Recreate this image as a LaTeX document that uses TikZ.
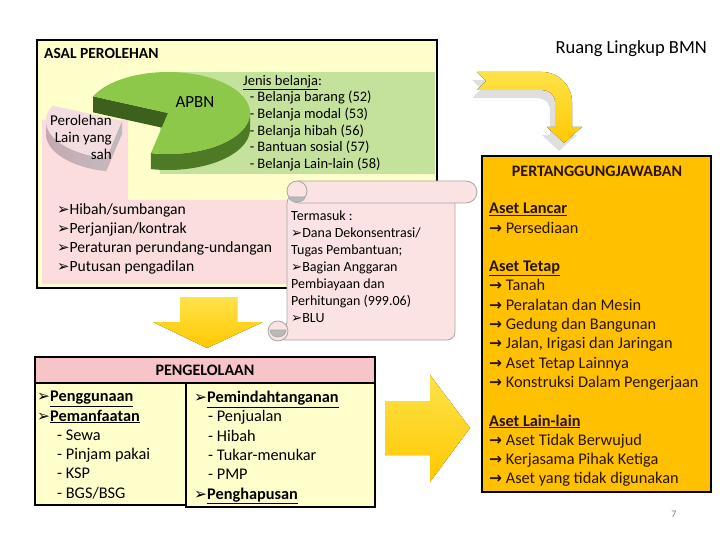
\documentclass[tikz,border=0pt]{standalone}
\usepackage{fontspec}
\usepackage{graphicx}
\setmainfont{Carlito}
\newfontfamily\symf{DejaVu Sans}
\newcommand{\bul}{{\symf\scalebox{0.95}{➢}}}
\newcommand{\arr}{{\symf\bfseries\scalebox{0.95}{→}}\ }
\definecolor{lyel}{HTML}{FFFFCC}
\definecolor{pinkbg}{HTML}{FBDDDE}
\definecolor{greenbg}{HTML}{C4E29C}
\definecolor{pietop}{HTML}{8DC84A}
\definecolor{pieside}{HTML}{4E7A26}
\definecolor{piecut}{HTML}{3D611C}
\definecolor{slicetop}{HTML}{F4DDE0}
\definecolor{sliceside}{HTML}{B8939F}
\definecolor{scrollc}{HTML}{FCE3E3}
\definecolor{gold}{HTML}{FFC800}
\definecolor{goldlt}{HTML}{FFE24A}
\definecolor{orangebox}{HTML}{FFC000}
\definecolor{hdrpink}{HTML}{F6C4C9}
\definecolor{txtbrown}{HTML}{2A1400}
\begin{document}
\begin{tikzpicture}[x=1pt,y=-1pt,
  frame/.style={draw=black,line width=2.2pt},
  thinframe/.style={draw=black,line width=1.6pt},
  scrollst/.style={fill=scrollc,draw=gray!70,line width=0.8pt},
  arrowst/.style={top color=goldlt,bottom color=gold,draw=none},
  body/.style={font=\fontsize{16.3}{19.3}\selectfont,anchor=north west,align=left,inner sep=0pt},
  small/.style={font=\fontsize{14.5}{16.6}\selectfont,anchor=north west,align=left,inner sep=0pt},
  scrtxt/.style={font=\fontsize{14}{17}\selectfont,anchor=north west,align=left,inner sep=0pt},
  title/.style={font=\fontsize{16}{18}\selectfont\bfseries,inner sep=0pt}
]
\useasboundingbox (0,0) rectangle (720,540);

% ---------- ASAL PEROLEHAN box ----------
\fill[lyel] (37,40) rectangle (437,288);
\fill[greenbg] (160,72) rectangle (435,174);
\fill[pinkbg] (42,120) -- (128,120) -- (128,200) -- (435,200) -- (435,284) -- (42,284) -- cycle;
\draw[frame] (37,40) rectangle (437,288);
\node[title,anchor=west,font=\fontsize{15.5}{18}\selectfont\bfseries] (asal) at (44,53) {ASAL PEROLEHAN};

% pie (green part)
\fill[pieside] plot[domain=258:360,samples=40] ({168+82*cos(\x)},{113-41*sin(\x)})
   -- plot[domain=360:258,samples=40] ({168+82*cos(\x)},{129-41*sin(\x)}) -- cycle;
\fill[piecut] (168,113) -- ({168+82*cos(156)},{113-41*sin(156)}) -- ({168+82*cos(156)},{129-41*sin(156)}) -- (168,129) -- cycle;
\fill[pietop] (168,113) -- plot[domain=-102:156,samples=80] ({168+82*cos(\x)},{113-41*sin(\x)}) -- cycle;
\node[font=\fontsize{17}{20}\selectfont,inner sep=0pt] (apbn) at (195,102) {APBN};

% pie (pink slice)
\shade[left color=sliceside!80,right color=sliceside!50!gray!60] plot[domain=180:258,samples=30] ({122+76*cos(\x)},{121-38*sin(\x)})
   -- plot[domain=258:180,samples=30] ({122+76*cos(\x)},{134-38*sin(\x)}) -- cycle;
\shade[left color=sliceside!70,right color=gray!55] (122,121) -- ({122+76*cos(258)},{121-38*sin(258)}) -- ({122+76*cos(258)},{134-38*sin(258)}) -- (122,134) -- cycle;
\fill[slicetop] (122,121) -- plot[domain=156:258,samples=40] ({122+76*cos(\x)},{121-38*sin(\x)}) -- cycle;
\node[font=\fontsize{15}{17}\selectfont,align=right,anchor=north east,inner sep=0pt] (lain) at (112,115) {Perolehan\\Lain yang\\sah};

% jenis belanja
\node[small] (jenis) at (243,75) {\underline{Jenis belanja}:\\
\ \ - Belanja barang (52)\\
\ \ - Belanja modal (53)\\
\ \ - Belanja hibah (56)\\
\ \ - Bantuan sosial (57)\\
\ \ - Belanja Lain-lain (58)};

% list
\node[body,font=\fontsize{15.6}{19.3}\selectfont] (list) at (57,203) {\bul Hibah/sumbangan\\
\bul Perjanjian/kontrak\\
\bul Peraturan perundang-undangan\\
\bul Putusan pengadilan};

% ---------- scroll ----------
\filldraw[scrollst,rounded corners=8] (287,195) -- (455,195) -- (455,340) -- (277,340) -- (277,330) -- (287,330) -- cycle;
\filldraw[scrollst,rounded corners=11] (288,181) rectangle (477,203);
\filldraw[scrollst] (297,191) circle (10);
\filldraw[fill=gray!55,draw=gray!70,line width=0.6pt] (289,197) arc[start angle=180,end angle=360,x radius=8,y radius=-5] -- cycle;
\filldraw[scrollst] (278,331) circle (10);
\filldraw[fill=gray!55,draw=gray!70,line width=0.6pt] (270,330) arc[start angle=180,end angle=360,x radius=8,y radius=-7] -- cycle;
\node[scrtxt] (scroll) at (291,211) {Termasuk :\\
\bul Dana Dekonsentrasi/\\
Tugas Pembantuan;\\
\bul Bagian Anggaran\\
Pembiayaan dan\\
Perhitungan (999.06)\\
\bul BLU};

% ---------- arrows ----------
\fill[arrowst] (180,297) -- (237,297) -- (237,322) -- (263,322) -- (207,348) -- (153,322) -- (180,322) -- cycle;
\coordinate (downarrow) at (207,322);
\fill[arrowst] (385,401) -- (430,401) -- (430,375) -- (470,428) -- (430,482) -- (430,455) -- (385,455) -- cycle;
\coordinate (rightarrow) at (430,428);
% curved arrow with shadow
\fill[gray,opacity=0.25] (472,80) -- (537,80) .. controls (553.6,80) and (567,93.4) .. (567,110) -- (567,135) -- (577,135) -- (559,151) -- (542,135) -- (550,135) -- (550,110) .. controls (550,102.8) and (544.2,98) .. (537,98) -- (472,98) -- (481,89) -- cycle;
\fill[arrowst] (477,72) -- (542,72) .. controls (558.6,72) and (572,85.4) .. (572,102) -- (572,127) -- (582,127) -- (564,143) -- (547,127) -- (555,127) -- (555,102) .. controls (555,94.8) and (549.2,90) .. (542,90) -- (477,90) -- (486,81) -- cycle;
\coordinate (bentarrow) at (564,143);

\node[anchor=east,font=\fontsize{18.5}{20}\selectfont,inner sep=0pt] (ruang) at (707,49) {Ruang Lingkup BMN};

% ---------- PENGELOLAAN ----------
\filldraw[fill=hdrpink,thinframe] (35,357) rectangle (375,383);
\node[title] (peng) at (205,370) {PENGELOLAAN};
\filldraw[fill=lyel,thinframe] (35,383) rectangle (186,505);
\filldraw[fill=lyel,thinframe] (186,383) rectangle (375,507);
\node[body] (pengl) at (37,391) {\bul\textbf{\underline{Penggunaan}}\\
\bul\textbf{\underline{Pemanfaatan}}\\
\hspace{20pt}- Sewa\\
\hspace{20pt}- Pinjam pakai\\
\hspace{20pt}- KSP\\
\hspace{20pt}- BGS/BSG};
\node[body] (pengr) at (194,391) {\bul\textbf{\underline{Pemindahtanganan}}\\
\hspace{14pt}- Penjualan\\
\hspace{14pt}- Hibah\\
\hspace{14pt}- Tukar-menukar\\
\hspace{14pt}- PMP\\
\bul\textbf{\underline{Penghapusan}}};

% ---------- PERTANGGUNGJAWABAN ----------
\filldraw[fill=orangebox,frame] (482,156) rectangle (711,492);
\node[title,text=txtbrown] (pert) at (597,171) {PERTANGGUNGJAWABAN};
\node[body,text=txtbrown] (aset) at (489,203) {\textbf{\underline{Aset Lancar}}\\
\arr Persediaan\\[19.3pt]
\textbf{\underline{Aset Tetap}}\\
\arr Tanah\\
\arr Peralatan dan Mesin\\
\arr Gedung dan Bangunan\\
\arr Jalan, Irigasi dan Jaringan\\
\arr Aset Tetap Lainnya\\
\arr Konstruksi Dalam Pengerjaan\\[19.3pt]
\textbf{\underline{Aset Lain-lain}}\\
\arr Aset Tidak Berwujud\\
\arr Kerjasama Pihak Ketiga\\
\arr Aset yang tidak digunakan};

\node[font=\fontsize{10}{12}\selectfont,text=gray] (pg) at (674,514) {7};
\end{tikzpicture}
\end{document}
